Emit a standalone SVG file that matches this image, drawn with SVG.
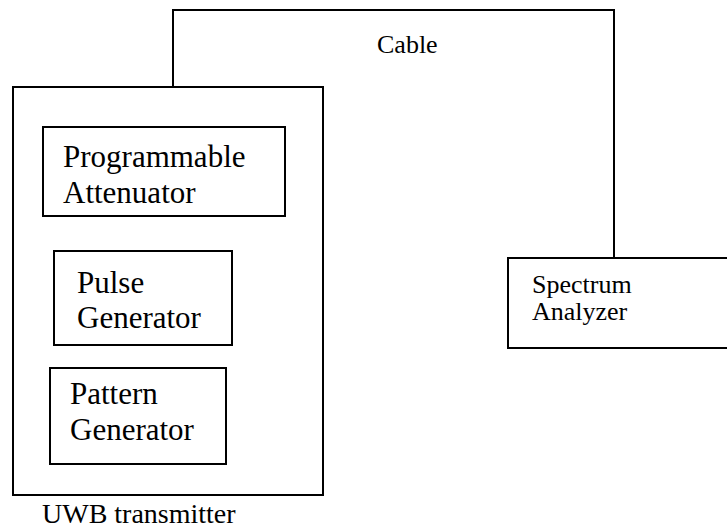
<svg xmlns="http://www.w3.org/2000/svg" width="727" height="531" viewBox="0 0 727 531">
<style>
.box{fill:none;stroke:#000;stroke-width:2}
.wire{fill:none;stroke:#000;stroke-width:2}
text{font-family:'Liberation Serif','DejaVu Serif','Noto Serif','Times New Roman',Times,serif;fill:#000}
.big{font-size:31px}
.mid{font-size:26px}
.lbl{font-size:28px}
</style>
<rect width="727" height="531" fill="#fff"/>
<g id="connectors">
<path class="wire" d="M173 87 V10 H614 V258"/>
<text class="mid" x="377" y="53">Cable</text>
</g>
<g id="uwb-transmitter">
<rect class="box" x="13" y="87" width="310" height="408"/>
<text class="lbl" x="42" y="523">UWB transmitter</text>
</g>
<g id="programmable-attenuator">
<rect class="box" x="43" y="127" width="242" height="89"/>
<text class="big" x="63" y="167">Programmable</text>
<text class="big" x="63" y="203">Attenuator</text>
</g>
<g id="pulse-generator">
<rect class="box" x="54" y="251" width="178" height="94"/>
<text class="big" x="77" y="293">Pulse</text>
<text class="big" x="77" y="328">Generator</text>
</g>
<g id="pattern-generator">
<rect class="box" x="50" y="368" width="176" height="96"/>
<text class="big" x="70" y="404">Pattern</text>
<text class="big" x="70" y="440">Generator</text>
</g>
<g id="spectrum-analyzer">
<rect class="box" x="508" y="258" width="240" height="90"/>
<text class="mid" x="532" y="293">Spectrum</text>
<text class="mid" x="532" y="320">Analyzer</text>
</g>
</svg>
